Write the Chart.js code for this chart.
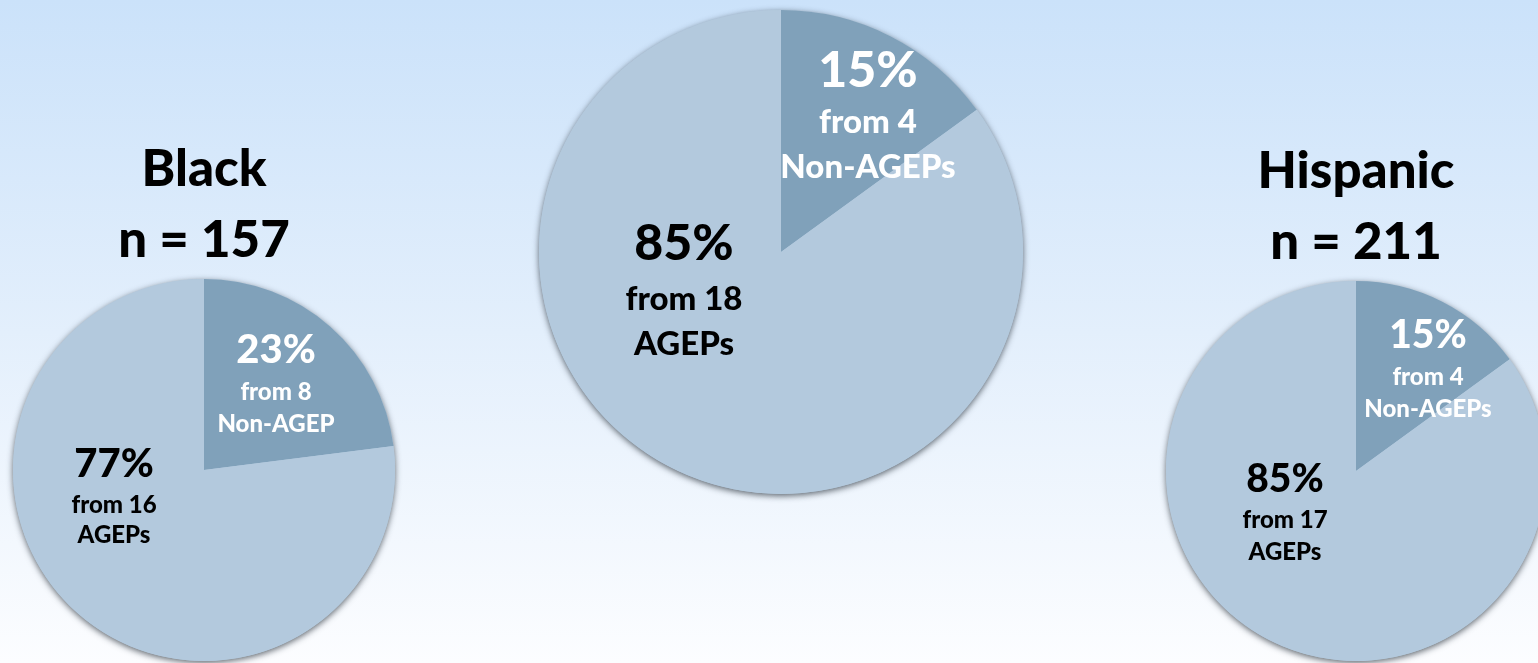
<!DOCTYPE html>
<html>
<head>
<meta charset="utf-8">
<title>AGEP share by group</title>
<script src="https://cdn.jsdelivr.net/npm/chart.js@4/dist/chart.umd.min.js"></script>
<style>
  html, body {
    margin: 0;
    padding: 0;
    width: 1538px;
    height: 663px;
    overflow: hidden;
    background: linear-gradient(to bottom, #cbe2fa 0%, #e3effc 50%, #fcfdff 100%);
  }
  .pie {
    position: absolute;
    top: 0;
    height: 663px;
  }
</style>
</head>
<body>
<div class="pie" id="box0"><canvas id="pie0"></canvas></div>
<div class="pie" id="box1"><canvas id="pie1"></canvas></div>
<div class="pie" id="box2"><canvas id="pie2"></canvas></div>
<script>
// data
const groupNames = ['Black', '', 'Hispanic'];
const groupSizes = [157, null, 211];
const nonAgepShare = [23, 15, 15];
const agepShare = [77, 85, 85];
const nonAgepCount = [8, 4, 4];
const agepCount = [16, 18, 17];
const nonAgepWord = ['Non-AGEP', 'Non-AGEPs', 'Non-AGEPs'];

const darkBlue = '#80a1ba';
const lightBlue = '#b3c9dd';
const FONT = 'Lato, "DejaVu Sans", sans-serif';
const WEIGHT = '900';

// where each pie sits and where its text goes (px, relative to pie centre)
const pies = [
  { cx: 204, cy: 470, r: 191, big: 40, small: 24,
    dark: { dx: 72, y: [-107, -70, -38] }, light: { dx: -90, y: [7, 43, 73] } },
  { cx: 781, cy: 252, r: 242, big: 50, small: 33,
    dark: { dx: 87, y: [-165, -119, -74] }, light: { dx: -97, y: [8, 58, 103] } },
  { cx: 1356, cy: 471, r: 190, big: 39, small: 24,
    dark: { dx: 72, y: [-123, -86, -54] }, light: { dx: -71, y: [21, 57, 89] } },
];

// soft drop shadow under the whole disc
const pieShadow = {
  id: 'pieShadow',
  beforeDatasetsDraw(chart) {
    const arc = chart.getDatasetMeta(0).data[0];
    const ctx = chart.ctx;
    ctx.save();
    ctx.shadowColor = 'rgba(30, 40, 50, 0.7)';
    ctx.shadowBlur = 6;
    ctx.shadowOffsetX = 0;
    ctx.shadowOffsetY = 2;
    ctx.fillStyle = lightBlue;
    ctx.beginPath();
    ctx.arc(arc.x, arc.y, arc.outerRadius, 0, Math.PI * 2);
    ctx.fill();
    ctx.restore();
  }
};

// percentages, counts and group titles
const pieText = {
  id: 'pieText',
  afterDatasetsDraw(chart, args, opts) {
    const i = opts.index;
    const p = pies[i];
    const arc = chart.getDatasetMeta(0).data[0];
    const ctx = chart.ctx;
    const x0 = arc.x, y0 = arc.y;
    ctx.save();
    ctx.textAlign = 'center';
    ctx.textBaseline = 'alphabetic';

    const block = (lay, color, lines) => {
      ctx.fillStyle = color;
      lines.forEach((t, k) => {
        ctx.font = WEIGHT + ' ' + (k === 0 ? p.big : p.small) + 'px ' + FONT;
        ctx.fillText(t, x0 + lay.dx, y0 + lay.y[k]);
      });
    };
    const ds = chart.data.datasets[0].data;
    block(p.dark, '#ffffff', [ds[0] + '%', 'from ' + nonAgepCount[i], nonAgepWord[i]]);
    block(p.light, '#000000', [ds[1] + '%', 'from ' + agepCount[i], 'AGEPs']);

    if (groupNames[i]) {
      const top = y0 - arc.outerRadius;
      ctx.fillStyle = '#000000';
      ctx.font = WEIGHT + ' 51px ' + FONT;
      ctx.fillText(groupNames[i], x0, top - 93);
      ctx.fillText('n = ' + groupSizes[i], x0, top - 22);
    }
    ctx.restore();
  }
};

function makePie(i) {
  const p = pies[i];
  const half = p.r + 16;
  const box = document.getElementById('box' + i);
  box.style.left = (p.cx - half) + 'px';
  box.style.width = (half * 2) + 'px';

  return new Chart(document.getElementById('pie' + i), {
    type: 'pie',
    data: {
      labels: ['Non-AGEP', 'AGEP'],
      datasets: [{
        data: [nonAgepShare[i], agepShare[i]],
        backgroundColor: [darkBlue, lightBlue],
        borderWidth: 0,
      }],
    },
    options: {
      responsive: true,
      maintainAspectRatio: false,
      animation: false,
      events: [],
      layout: {
        padding: { left: 16, right: 16, top: p.cy - p.r, bottom: 663 - p.cy - p.r },
      },
      plugins: {
        legend: { display: false },
        tooltip: { enabled: false },
        pieText: { index: i },
      },
    },
    plugins: [pieShadow, pieText],
  });
}

document.fonts.load(WEIGHT + ' 40px Lato').finally(() => {
  pies.forEach((p, i) => makePie(i));
});
</script>
</body>
</html>
